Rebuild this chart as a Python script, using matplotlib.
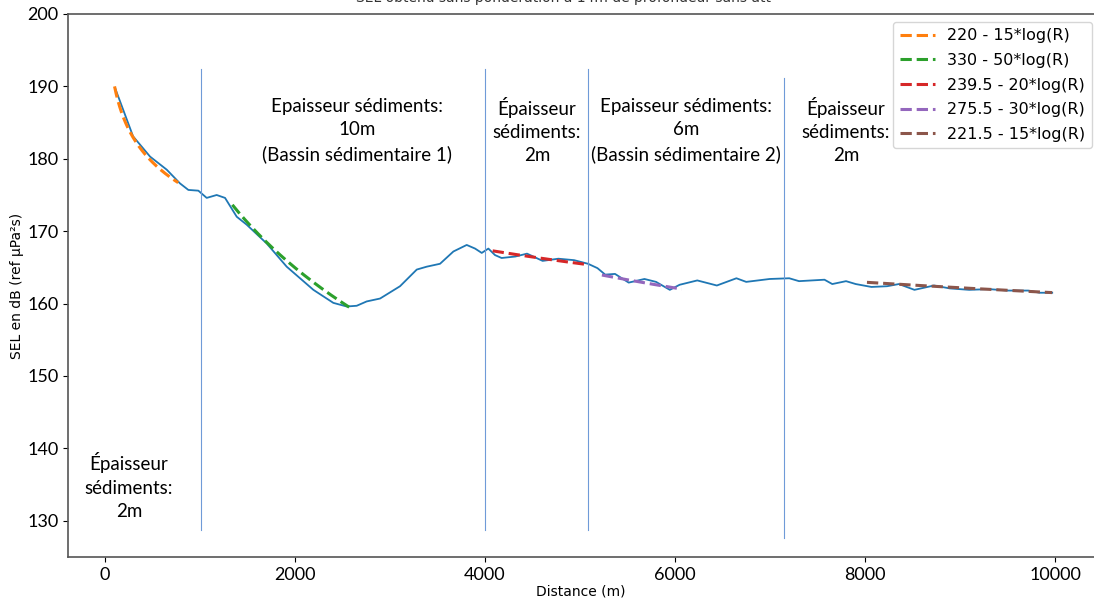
import numpy as np
import matplotlib
matplotlib.use('Agg')
import matplotlib.pyplot as plt

# ----------------------------------------------------------------------
# Données
# ----------------------------------------------------------------------
distance = [105, 295, 474, 649, 789, 877, 982, 1070, 1175, 1263, 1386, 1491,
            1702, 1912, 2193, 2403, 2544, 2649, 2754, 2895, 3105, 3281, 3386,
            3526, 3667, 3807, 3895, 3965, 4035, 4105, 4174, 4318, 4442, 4606,
            4772, 4937, 5084, 5183, 5265, 5368, 5512, 5678, 5800, 5945, 6048,
            6234, 6440, 6646, 6749, 6996, 7202, 7305, 7573, 7655, 7800, 7902,
            8067, 8232, 8356, 8520, 8726, 8891, 9097, 9303, 9509, 9716, 9839,
            9970]
sel = [189.8, 183.1, 180.3, 178.5, 176.6, 175.7, 175.6, 174.6, 175.0, 174.6,
       172.0, 170.9, 168.3, 165.1, 161.9, 160.1, 159.6, 159.7, 160.3, 160.7,
       162.4, 164.7, 165.1, 165.5, 167.2, 168.1, 167.6, 167.0, 167.6, 166.7,
       166.3, 166.5, 166.9, 165.9, 166.2, 166.0, 165.5, 164.9, 164.0, 164.1,
       162.9, 163.4, 163.0, 161.9, 162.6, 163.2, 162.5, 163.5, 163.0, 163.4,
       163.5, 163.1, 163.3, 162.7, 163.1, 162.7, 162.3, 162.4, 162.7, 161.9,
       162.5, 162.1, 161.9, 162.0, 161.8, 161.8, 161.5, 161.5]

# lois de perte : A - B*log(R), sur un intervalle de distance
fit_a = [220, 330, 239.5, 275.5, 221.5]
fit_b = [15, 50, 20, 30, 15]
fit_start = [100, 1340, 4080, 5230, 8020]
fit_end = [770, 2570, 5090, 6070, 9970]
fit_colors = ['tab:orange', 'tab:green', 'tab:red', 'tab:purple', 'tab:brown']

# limites des zones sédimentaires
zone_x = [1010, 4000, 5085, 7150]
zone_ymin = [128.7, 128.7, 128.7, 127.6]
zone_ymax = [192.4, 192.4, 192.4, 191.2]

zone_labels = ['Épaisseur\nsédiments:\n2m',
               'Epaisseur sédiments:\n10m\n(Bassin sédimentaire 1)',
               'Épaisseur\nsédiments:\n2m',
               'Epaisseur sédiments:\n6m\n(Bassin sédimentaire 2)',
               'Épaisseur\nsédiments:\n2m']
label_x = [253, 2653, 4547, 6116, 7800]
label_y = [134.8, 183.9, 183.9, 183.9, 183.9]

# ----------------------------------------------------------------------
# Figure
# ----------------------------------------------------------------------
fig = plt.figure(figsize=(10.94, 6.0), dpi=100)
ax = fig.add_axes([68 / 1094, 43 / 600, 1026 / 1094, 543 / 600])

ax.plot(distance, sel, color='tab:blue', lw=1.3)

for a, b, x0, x1, c in zip(fit_a, fit_b, fit_start, fit_end, fit_colors):
    r = np.linspace(x0, x1, 200)
    ax.plot(r, a - b * np.log10(r), '--', color=c, lw=2.2,
            label=f'{a} - {b}*log(R)')

for x, y0, y1 in zip(zone_x, zone_ymin, zone_ymax):
    ax.plot([x, x], [y0, y1], color='#6f9bd8', lw=0.8)

for txt, x, y in zip(zone_labels, label_x, label_y):
    ax.text(x, y, txt, ha='center', va='center', fontsize=13.5,
            family='Lato', linespacing=1.45)

ax.set_xlim(-390, 10410)
ax.set_ylim(125, 200)
ax.set_xticks([0, 2000, 4000, 6000, 8000, 10000])
ax.set_yticks([130, 140, 150, 160, 170, 180, 190, 200])
for lab in ax.get_xticklabels() + ax.get_yticklabels():
    lab.set_family('Lato')
    lab.set_fontsize(13)

ax.set_xlabel('Distance (m)', fontsize=10, labelpad=1)
ax.set_ylabel('SEL en dB (ref µPa²s)', fontsize=10, labelpad=2)
ax.spines['right'].set_visible(False)
for s in ['left', 'bottom', 'top']:
    ax.spines[s].set_color('#555555')
    ax.spines[s].set_linewidth(1.2)

ax.legend(loc='upper right', bbox_to_anchor=(1092 / 1094, 578 / 600),
          bbox_transform=fig.transFigure, borderaxespad=0,
          fontsize=11.5, handlelength=2.2, labelspacing=0.6)

fig.text(563 / 1094, 1.004, 'SEL obtenu sans pondération à 14m de profondeur sans att',
         ha='center', va='center', fontsize=10, color='#333333')

fig.savefig('out.png', dpi=100)
